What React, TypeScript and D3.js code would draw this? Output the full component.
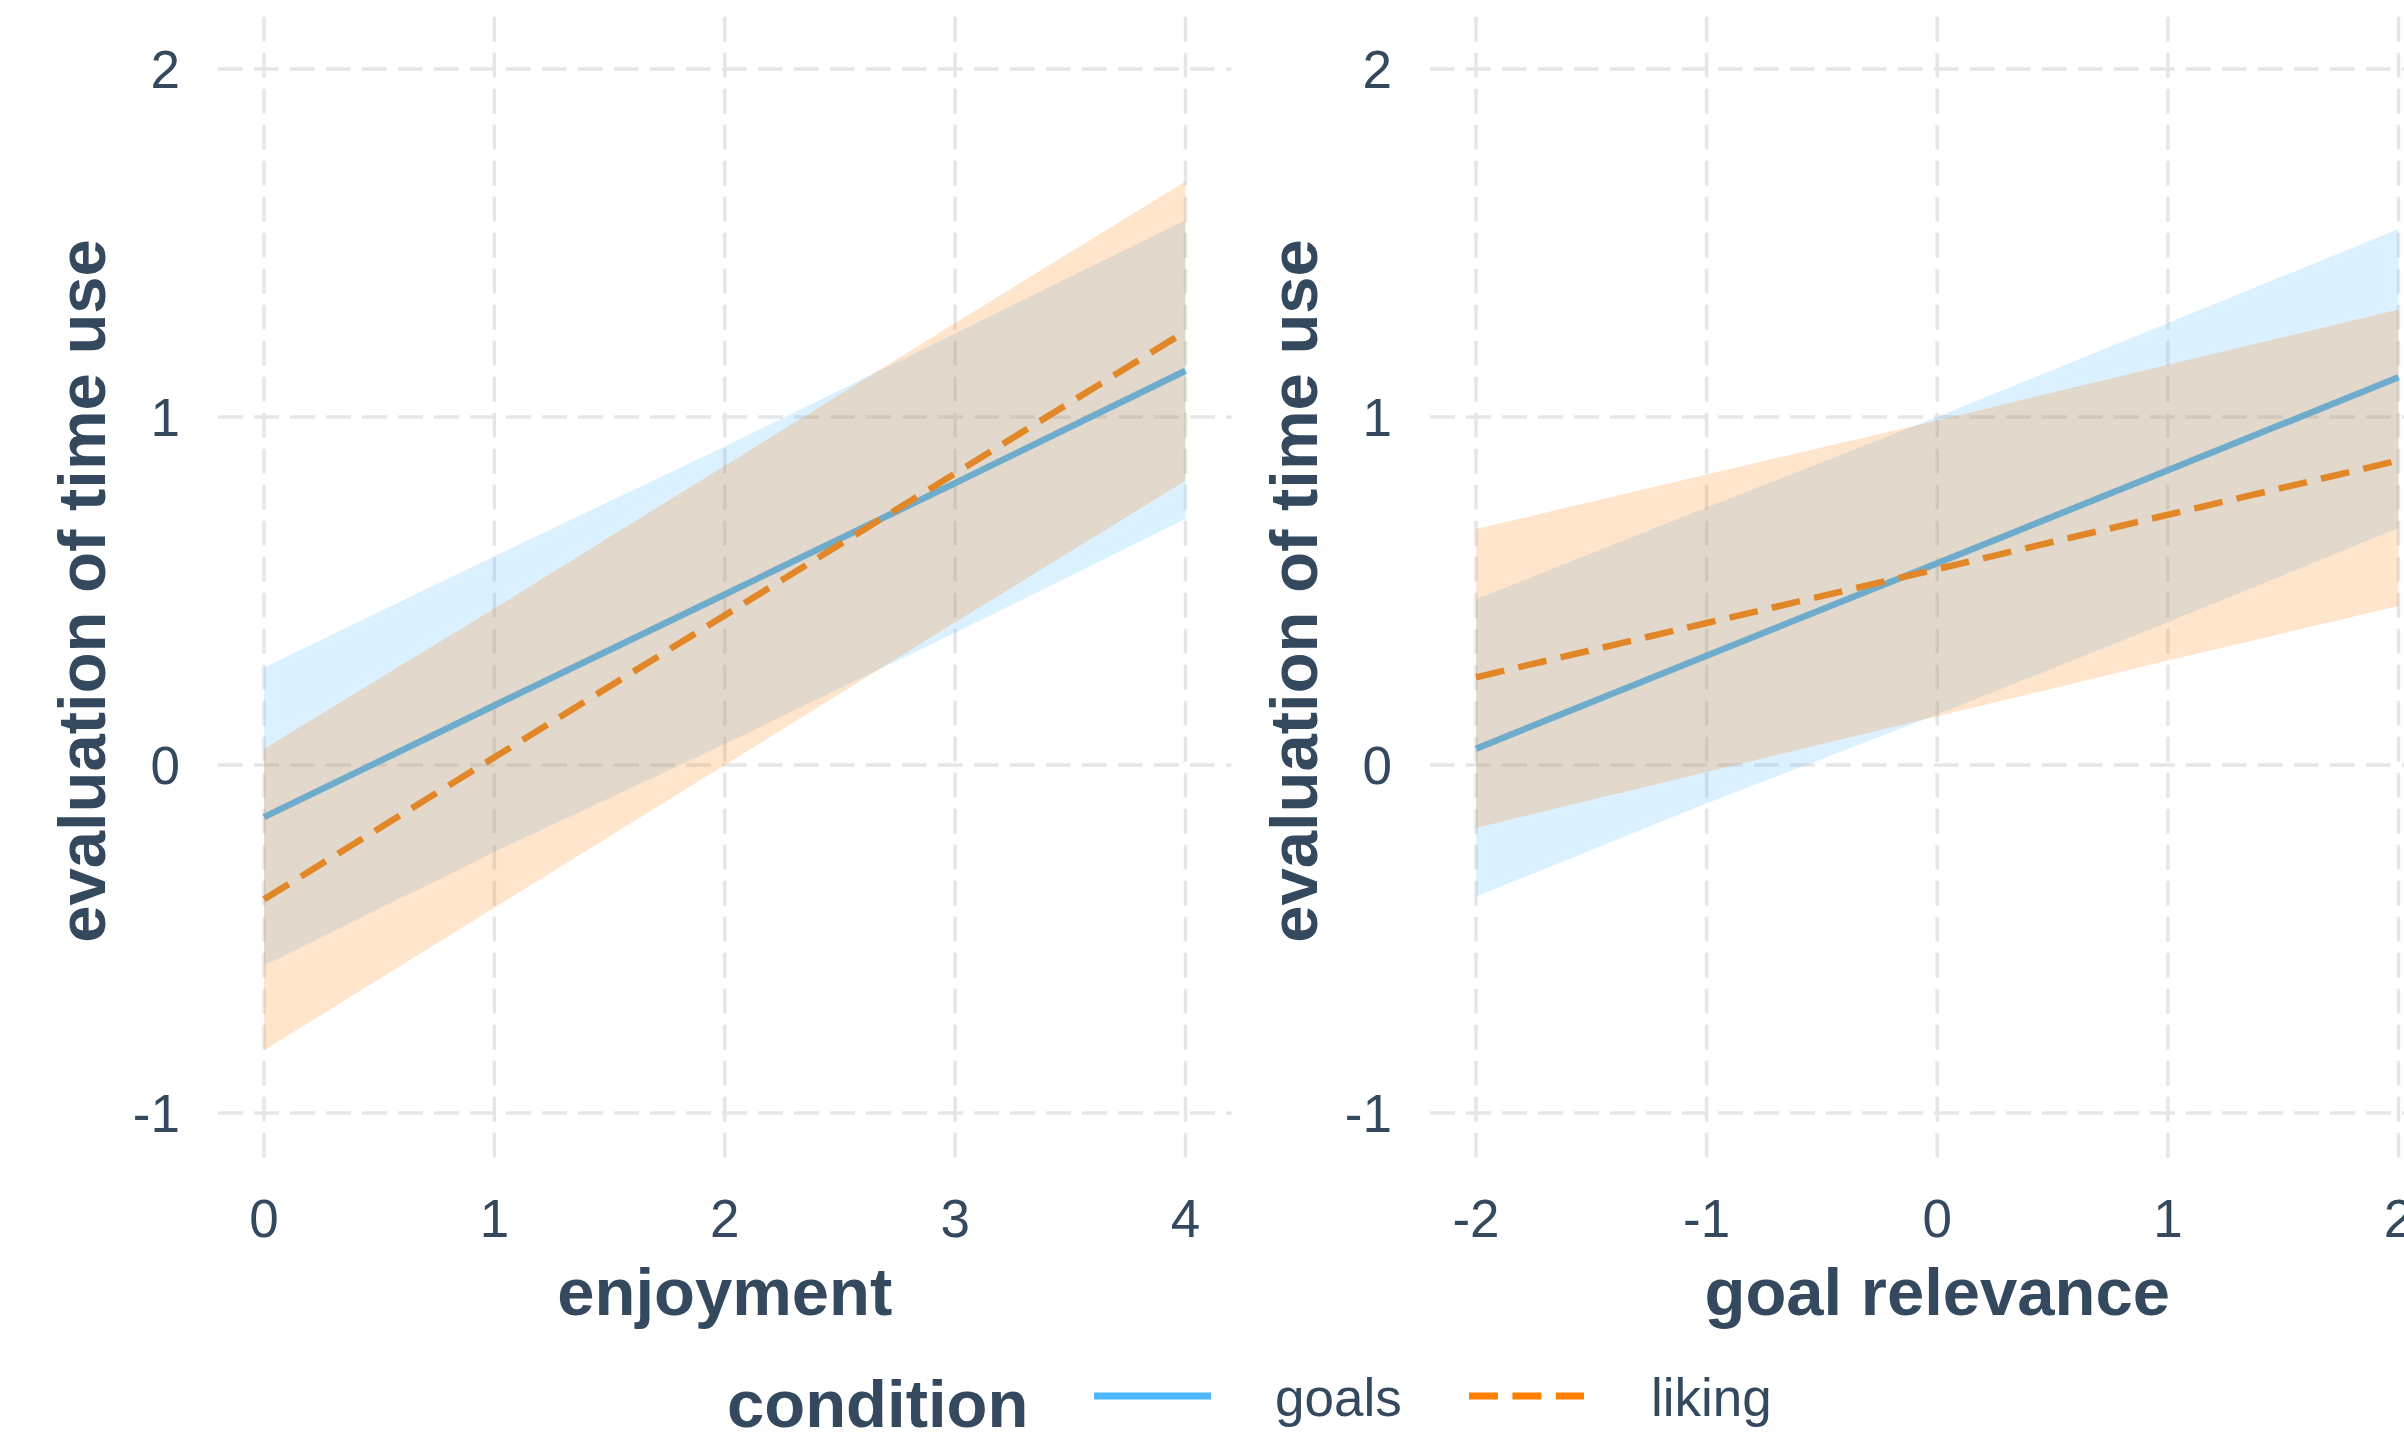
import React from "react";
import * as d3 from "d3";

// ---- data ----
const enjoymentX = [0, 1, 2, 3, 4];
const relevanceX = [-2, -1, 0, 1, 2];

const enjGoalsFit = [-0.15, 0.171, 0.49, 0.81, 1.133];
const enjGoalsLow = [-0.576, -0.25, 0.06, 0.38, 0.707];
const enjGoalsHigh = [0.28, 0.6, 0.915, 1.24, 1.566];
const enjLikingFit = [-0.386, 0.022, 0.43, 0.838, 1.246];
const enjLikingLow = [-0.82, -0.41, 0.0, 0.41, 0.817];
const enjLikingHigh = [0.047, 0.45, 0.86, 1.27, 1.677];

const relGoalsFit = [0.047, 0.314, 0.58, 0.847, 1.114];
const relGoalsLow = [-0.378, -0.11, 0.145, 0.41, 0.681];
const relGoalsHigh = [0.476, 0.74, 1.0, 1.27, 1.54];
const relLikingFit = [0.252, 0.408, 0.563, 0.719, 0.875];
const relLikingLow = [-0.181, -0.02, 0.14, 0.3, 0.457];
const relLikingHigh = [0.678, 0.835, 0.99, 1.15, 1.309];

const yTicks = [-1, 0, 1, 2];
const enjTicks = [0, 1, 2, 3, 4];
const relTicks = [-2, -1, 0, 1, 2];
const conditions = ["goals", "liking"];

const W = 2404;
const H = 1434;
const FONT = "'Liberation Sans', Arial, Helvetica, sans-serif";
const TEXT = "#34495e";
const GRID = "#e6e6e6";
const BLUE = "#4DB8FF";
const ORANGE = "#FF7F00";

const yScale = d3.scaleLinear().domain([-1, 2]).range([1113, 69]);

type Panel = {
  xs: number[];
  ticks: number[];
  title: string;
  scale: d3.ScaleLinear<number, number>;
  goals: { fit: number[]; low: number[]; high: number[] };
  liking: { fit: number[]; low: number[]; high: number[] };
};

const panels: Panel[] = [
  {
    xs: enjoymentX,
    ticks: enjTicks,
    title: "enjoyment",
    scale: d3.scaleLinear().domain([0, 4]).range([264, 1185.5]),
    goals: { fit: enjGoalsFit, low: enjGoalsLow, high: enjGoalsHigh },
    liking: { fit: enjLikingFit, low: enjLikingLow, high: enjLikingHigh },
  },
  {
    xs: relevanceX,
    ticks: relTicks,
    title: "goal relevance",
    scale: d3.scaleLinear().domain([-2, 2]).range([1476, 2398.5]),
    goals: { fit: relGoalsFit, low: relGoalsLow, high: relGoalsHigh },
    liking: { fit: relLikingFit, low: relLikingLow, high: relLikingHigh },
  },
];

function PanelView({ p }: { p: Panel }) {
  const x = p.scale;
  const [d0, d1] = x.domain();
  const span = d1 - d0;
  const left = x(d0 - span * 0.05);
  const right = x(d1 + span * 0.05);
  const top = yScale(2.15);
  const bottom = yScale(-1.15);
  const idx = p.xs.map((_, i) => i);

  const area = (low: number[], high: number[]) =>
    d3
      .area<number>()
      .x((i) => x(p.xs[i]))
      .y0((i) => yScale(low[i]))
      .y1((i) => yScale(high[i]))(idx) || "";
  const line = (fit: number[]) =>
    d3
      .line<number>()
      .x((i) => x(p.xs[i]))
      .y((i) => yScale(fit[i]))(idx) || "";

  const cx = (x(d0) + x(d1)) / 2;
  const cy = (top + bottom) / 2;
  const titleX = left - 113;

  return (
    <g>
      {yTicks.map((t) => (
        <line
          key={"h" + t}
          x1={left}
          x2={right}
          y1={yScale(t)}
          y2={yScale(t)}
          stroke={GRID}
          strokeWidth={3.5}
          strokeDasharray="25 11"
        />
      ))}
      {p.ticks.map((t) => (
        <line
          key={"v" + t}
          x1={x(t)}
          x2={x(t)}
          y1={top}
          y2={bottom}
          stroke={GRID}
          strokeWidth={3.5}
          strokeDasharray="25 11"
        />
      ))}
      {/* lines drawn beneath ribbons */}
      <path d={line(p.goals.fit)} fill="none" stroke={BLUE} strokeWidth={6.5} />
      <path
        d={line(p.liking.fit)}
        fill="none"
        stroke={ORANGE}
        strokeWidth={6.5}
        strokeDasharray="29 14.4"
      />
      <path d={area(p.goals.low, p.goals.high)} fill={BLUE} fillOpacity={0.2} />
      <path d={area(p.liking.low, p.liking.high)} fill={ORANGE} fillOpacity={0.2} />

      {yTicks.map((t) => (
        <text
          key={"yl" + t}
          x={left - 38}
          y={yScale(t)}
          dy="0.36em"
          textAnchor="end"
          fontSize={53}
          fill={TEXT}
          fontFamily={FONT}
        >
          {t}
        </text>
      ))}
      {p.ticks.map((t) => (
        <text
          key={"xl" + t}
          x={x(t)}
          y={1237}
          textAnchor="middle"
          fontSize={53}
          fill={TEXT}
          fontFamily={FONT}
        >
          {t}
        </text>
      ))}
      <text
        x={cx}
        y={1315}
        textAnchor="middle"
        fontSize={67}
        fontWeight="bold"
        fill={TEXT}
        fontFamily={FONT}
      >
        {p.title}
      </text>
      <text
        transform={`translate(${titleX},${cy}) rotate(-90)`}
        textAnchor="middle"
        fontSize={67}
        fontWeight="bold"
        fill={TEXT}
        fontFamily={FONT}
      >
        evaluation of time use
      </text>
    </g>
  );
}

export default function App() {
  return (
    <svg
      width={W}
      height={H}
      viewBox={`0 0 ${W} ${H}`}
      style={{ position: "absolute", left: 0, top: 0, background: "#fff", display: "block" }}
    >
      <rect x={0} y={0} width={W} height={H} fill="#fff" />
      {panels.map((p, i) => (
        <PanelView key={i} p={p} />
      ))}
      {/* legend */}
      <text x={727} y={1427} fontSize={67} fontWeight="bold" fill={TEXT} fontFamily={FONT}>
        condition
      </text>
      <line x1={1094} x2={1211} y1={1396} y2={1396} stroke={BLUE} strokeWidth={7} />
      <text x={1275} y={1416} fontSize={53} fill={TEXT} fontFamily={FONT}>
        {conditions[0]}
      </text>
      <line
        x1={1469}
        x2={1584}
        y1={1396}
        y2={1396}
        stroke={ORANGE}
        strokeWidth={7}
        strokeDasharray="29 14.4"
      />
      <text x={1651} y={1416} fontSize={53} fill={TEXT} fontFamily={FONT}>
        {conditions[1]}
      </text>
    </svg>
  );
}
